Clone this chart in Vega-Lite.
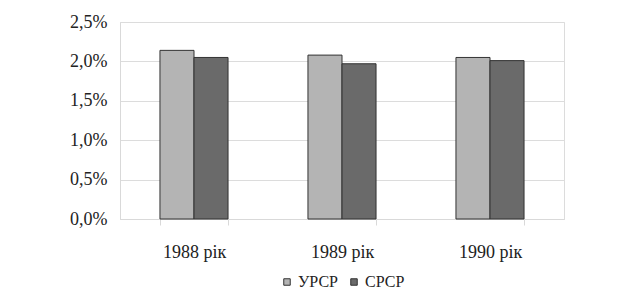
{
  "$schema": "https://vega.github.io/schema/vega-lite/v6.json",
  "autosize": "none",
  "width": 444,
  "height": 197,
  "padding": {"left": 120, "top": 22, "right": 54, "bottom": 75},
  "background": "white",
  "data": {
    "values": [
      {"year": "1988 рік", "series": "УРСР", "value": 2.14},
      {"year": "1988 рік", "series": "СРСР", "value": 2.05},
      {"year": "1989 рік", "series": "УРСР", "value": 2.08},
      {"year": "1989 рік", "series": "СРСР", "value": 1.97},
      {"year": "1990 рік", "series": "УРСР", "value": 2.05},
      {"year": "1990 рік", "series": "СРСР", "value": 2.01}
    ]
  },
  "mark": {"type": "bar", "stroke": "#333333", "strokeWidth": 1},
  "encoding": {
    "x": {
      "field": "year",
      "type": "nominal",
      "scale": {"paddingInner": 0.54, "paddingOuter": 0.27},
      "axis": {
        "title": null,
        "labelAngle": 0,
        "labelFont": "Liberation Serif",
        "labelFontSize": 18,
        "labelColor": "#222222",
        "labelPadding": 18,
        "domainColor": "#d9d9d9",
        "ticks": true,
        "tickBand": "extent",
        "tickSize": 6,
        "tickColor": "#d9d9d9"
      }
    },
    "xOffset": {"field": "series", "type": "nominal", "sort": ["УРСР", "СРСР"]},
    "y": {
      "field": "value",
      "type": "quantitative",
      "scale": {"domain": [0, 2.5], "nice": false},
      "axis": {
        "title": null,
        "values": [0, 0.5, 1, 1.5, 2, 2.5],
        "labelExpr": "replace(format(datum.value, '.1f'), '.', ',') + '%'",
        "labelFont": "Liberation Serif",
        "labelFontSize": 18,
        "labelColor": "#222222",
        "labelPadding": 13,
        "ticks": false,
        "domainColor": "#d9d9d9",
        "gridColor": "#dcdcdc"
      }
    },
    "color": {
      "field": "series",
      "type": "nominal",
      "sort": ["УРСР", "СРСР"],
      "scale": {"domain": ["УРСР", "СРСР"], "range": ["#b4b4b4", "#6a6a6a"]},
      "legend": {
        "title": null,
        "orient": "bottom",
        "direction": "horizontal",
        "symbolType": "square",
        "symbolSize": 42,
        "symbolStrokeColor": "#333333",
        "symbolStrokeWidth": 1,
        "labelFont": "Liberation Serif",
        "labelFontSize": 16,
        "labelColor": "#222222",
        "columnPadding": 8,
        "labelOffset": 3,
        "offset": 13
      }
    }
  },
  "config": {
    "font": "Liberation Serif",
    "view": {"stroke": "#dcdcdc"},
    "legend": {"layout": {"bottom": {"anchor": "middle"}}}
  }
}
